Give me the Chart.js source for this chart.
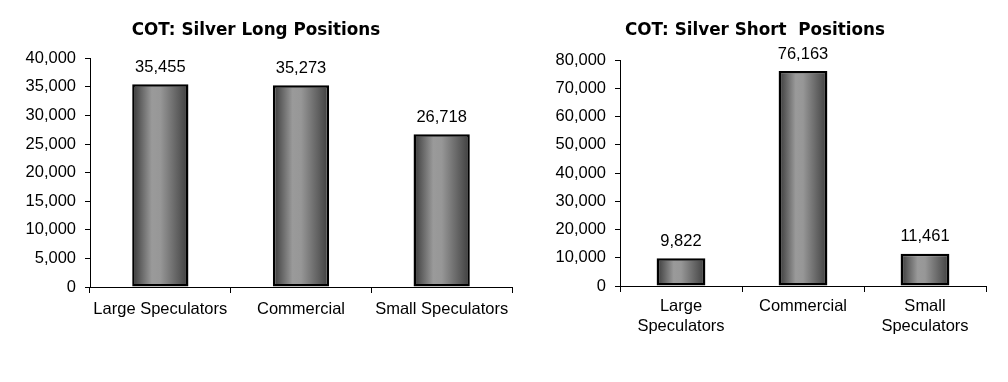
<!DOCTYPE html>
<html>
<head>
<meta charset="utf-8">
<script src="https://cdn.jsdelivr.net/npm/chart.js@4/dist/chart.umd.min.js"></script>
<style>
    body { margin: 0; background: #fff; }
    #wrap { position: relative; width: 1008px; height: 382px; overflow: hidden; }
    #longChart { position: absolute; left: 0; top: 0; }
    #shortChart { position: absolute; left: 520px; top: 0; }
</style>
</head>
<body>
<div id="wrap">
    <canvas id="longChart" width="520" height="382"></canvas>
    <canvas id="shortChart" width="488" height="382"></canvas>
</div>
<script>
const longCategories = ["Large Speculators", "Commercial", "Small Speculators"];
const longValues = [35455, 35273, 26718];
const longTicks = [0, 5000, 10000, 15000, 20000, 25000, 30000, 35000, 40000];

const shortCategories = [["Large", "Speculators"], "Commercial", ["Small", "Speculators"]];
const shortValues = [9822, 76163, 11461];
const shortTicks = [0, 10000, 20000, 30000, 40000, 50000, 60000, 70000, 80000];

const FONT = "'Liberation Sans', Arial, sans-serif";

function formatNum(v) {
    return Number(v).toLocaleString("en-US");
}

// gradiente horizontal em cada barra (escuro nas bordas, claro no meio)
function barFill(c) {
    const chart = c.chart;
    const xs = chart.scales.x;
    if (!xs || c.dataIndex === undefined || !xs.width) return "#888888";
    const n = chart.data.labels.length;
    const cx = xs.getPixelForValue(c.dataIndex);
    const w = (xs.width / n) * 0.4;
    const g = chart.ctx.createLinearGradient(cx - w / 2, 0, cx + w / 2, 0);
    g.addColorStop(0, "#383838");
    g.addColorStop(0.35, "#9a9a9a");
    g.addColorStop(0.5, "#979797");
    g.addColorStop(1, "#3e3e3e");
    return g;
}

const valueLabels = {
    id: "valueLabels",
    afterDatasetsDraw(chart) {
        const ctx = chart.ctx;
        const meta = chart.getDatasetMeta(0);
        const data = chart.data.datasets[0].data;
        ctx.save();
        ctx.font = "16.5px " + FONT;
        ctx.fillStyle = "#000";
        ctx.textAlign = "center";
        ctx.textBaseline = "middle";
        meta.data.forEach((bar, i) => {
            ctx.fillText(formatNum(data[i]), bar.x, bar.y - 17);
        });
        ctx.restore();
    }
};

function criarGrafico(id, titulo, labels, valores, ticks, cfg) {
    const ctx = document.getElementById(id);
    return new Chart(ctx, {
        type: "bar",
        data: {
            labels: labels,
            datasets: [{
                data: valores,
                backgroundColor: barFill,
                borderColor: "#000",
                borderWidth: 2.5,
                borderSkipped: false,
                barPercentage: 0.4,
                categoryPercentage: 1
            }]
        },
        options: {
            responsive: false,
            animation: false,
            devicePixelRatio: 1,
            layout: {
                padding: { left: cfg.padLeft, right: cfg.padRight, top: 0, bottom: cfg.padBottom }
            },
            plugins: {
                legend: { display: false },
                tooltip: { enabled: false },
                title: {
                    display: true,
                    text: titulo,
                    color: "#000",
                    font: { family: "'DejaVu Sans', Verdana, sans-serif", size: 16.8, weight: "bold", lineHeight: 1.2 },
                    padding: { top: 20.5, bottom: cfg.titleBottom }
                }
            },
            scales: {
                x: {
                    grid: { display: true, drawOnChartArea: false, drawTicks: true, tickLength: 6, color: "#000", offset: true },
                    border: { display: true, color: "#000", width: 1 },
                    ticks: {
                        color: "#000",
                        font: { family: FONT, size: 16.5, lineHeight: 1.25 },
                        padding: cfg.xPad,
                        maxRotation: 0,
                        autoSkip: false
                    },
                    afterFit(scale) { scale.height = 50; }
                },
                y: {
                    min: ticks[0],
                    max: ticks[ticks.length - 1],
                    afterBuildTicks(scale) {
                        scale.ticks = ticks.map(v => ({ value: v }));
                    },
                    grid: { display: true, drawOnChartArea: false, drawTicks: true, tickLength: 5, color: "#000" },
                    border: { display: true, color: "#000", width: 1 },
                    ticks: {
                        color: "#000",
                        font: { family: FONT, size: 16.5 },
                        padding: 9,
                        callback: v => formatNum(v)
                    },
                    afterFit(scale) { scale.width = cfg.yWidth; }
                }
            }
        },
        plugins: [valueLabels]
    });
}

criarGrafico("longChart", "COT: Silver Long Positions", longCategories, longValues, longTicks, {
    padLeft: 0, padRight: 8, padBottom: 45, titleBottom: 17.6, yWidth: 90, xPad: 6
});

criarGrafico("shortChart", "COT: Silver Short  Positions", shortCategories, shortValues, shortTicks, {
    padLeft: 4, padRight: 22, padBottom: 46, titleBottom: 19.6, yWidth: 96, xPad: 4
});
</script>
</body>
</html>
